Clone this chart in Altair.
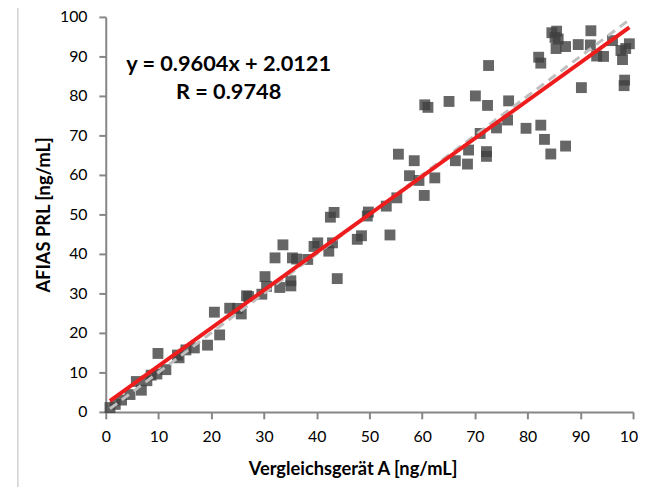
import altair as alt
import pandas as pd

# Scatter values
x_vals = [0.8, 1.8, 3.0, 4.6, 5.8, 6.75, 7.8, 8.6, 9.7, 9.9,
          11.4, 13.6, 13.9, 15.2, 16.8, 19.3, 20.6, 21.6, 23.5, 25.0,
          25.7, 26.7, 27.1, 29.6, 30.2, 30.5, 32.1, 33.0, 33.6, 35.1,
          35.1, 35.4, 36.2, 38.3, 39.5, 40.2, 42.3, 43.0, 42.6, 43.3,
          43.9, 47.7, 48.5, 49.6, 49.8, 53.2, 53.9, 55.2, 55.5, 57.6,
          58.5, 59.4, 60.4, 60.5, 61.1, 62.4, 65.1, 66.3, 68.6, 68.8,
          70.1, 71.0, 72.2, 72.2, 72.4, 72.6, 74.1, 76.2, 76.4, 79.7,
          82.1, 82.5, 82.5, 83.2, 84.4, 84.6, 85.5, 85.2, 85.8, 85.4,
          87.2, 87.2, 89.6, 90.2, 91.9, 92.0, 93.1, 94.4, 96.1, 97.7,
          98.0, 98.3, 98.4, 98.6, 99.3]
y_vals = [1.1, 1.9, 3.0, 4.4, 7.7, 5.5, 7.9, 9.3, 9.6, 14.8,
          10.7, 14.4, 13.7, 15.7, 16.2, 16.9, 25.25, 19.5, 26.25, 26.2,
          24.8, 29.4, 29.2, 29.8, 34.25, 31.8, 39.0, 31.5, 42.3, 33.2,
          31.9, 39.0, 38.7, 38.6, 41.9, 42.8, 40.7, 42.8, 49.3, 50.5,
          33.75, 43.7, 44.6, 49.6, 50.6, 52.1, 44.8, 54.2, 65.25, 59.8,
          63.6, 58.6, 54.8, 77.75, 77.1, 59.25, 78.6, 63.6, 62.75, 66.3,
          80.0, 70.5, 65.9, 64.7, 77.6, 87.7, 71.9, 73.9, 78.75, 71.8,
          89.8, 88.3, 72.6, 69.0, 65.3, 96.0, 96.4, 94.8, 94.4, 92.0,
          92.5, 67.3, 93.0, 82.1, 92.9, 96.5, 90.1, 90.0, 94.0, 91.5,
          89.2, 82.6, 84.0, 92.0, 93.2]

slope = 0.9604
intercept = 2.0121
equation_lines = ["y = 0.9604x + 2.0121", "R = 0.9748"]
x_title = "Vergleichsgerät A [ng/mL]"
y_title = "AFIAS PRL [ng/mL]"
axis_ticks = [0, 10, 20, 30, 40, 50, 60, 70, 80, 90, 100]

pts = pd.DataFrame({"x": x_vals, "y": y_vals})
xr = [min(x_vals), max(x_vals)]
reg = pd.DataFrame({"x": xr, "y": [slope * v + intercept for v in xr]})
ident = pd.DataFrame({"x": xr, "y": xr})
eq = pd.DataFrame({"x": [23.3, 23.3], "y": [88.0, 81.0], "t": equation_lines})

FONT = "Lato"
xs = alt.Scale(domain=[0, 100], nice=False)
ys = alt.Scale(domain=[0, 100], nice=False)

common = dict(values=axis_ticks, grid=False, domainColor="#868686", domainWidth=2,
              tickColor="#868686", tickWidth=2, tickSize=7, labelFontSize=16,
              labelColor="#000000", labelFont=FONT, titleFont=FONT, titleFontSize=18.5,
              titleFontWeight="bold", titleColor="#000000", labelFlush=False,
              labelOverlap=False, labelBound=False)

x_axis = alt.Axis(title=x_title, labelPadding=10, titlePadding=15, titleX=250, **common)
y_axis = alt.Axis(title=y_title, labelPadding=12, titlePadding=6, **common)

X = alt.X("x:Q", scale=xs, axis=x_axis)
Y = alt.Y("y:Q", scale=ys, axis=y_axis)

points = alt.Chart(pts).mark_square(size=121, color="#404040", opacity=0.8).encode(x=X, y=Y)

ident_line = alt.Chart(ident).mark_line(color="#bfbfbf", strokeWidth=3, strokeDash=[9, 6]).encode(
    x=X, y=Y
)
reg_line = alt.Chart(reg).mark_line(color="#ee1c1c", strokeWidth=4).encode(x=X, y=Y)
text = alt.Chart(eq).mark_text(font=FONT, fontSize=22, fontWeight="bold", color="#000000").encode(
    x=X, y=Y, text="t:N"
)

frame_df = pd.DataFrame({"a": [0]})
frame_v = alt.Chart(frame_df).mark_rule(color="#d0d0d0", strokeWidth=1.5).encode(
    x=alt.value(-89), y=alt.value(-12), y2=alt.value(480)
)
frame_h = alt.Chart(frame_df).mark_rule(color="#d0d0d0", strokeWidth=1.5).encode(
    x=alt.value(-89), x2=alt.value(600), y=alt.value(-12)
)

chart = alt.layer(frame_v, frame_h, points, ident_line, reg_line, text).properties(
    width=534, height=400,
    autosize=alt.AutoSizeParams(type="none"),
    padding={"left": 99, "top": 6, "right": 5, "bottom": 73},
).configure_view(stroke=None).configure_axis(labelOverlap=False)

chart.save("out.html", embed_options={"renderer": "svg", "actions": False})
